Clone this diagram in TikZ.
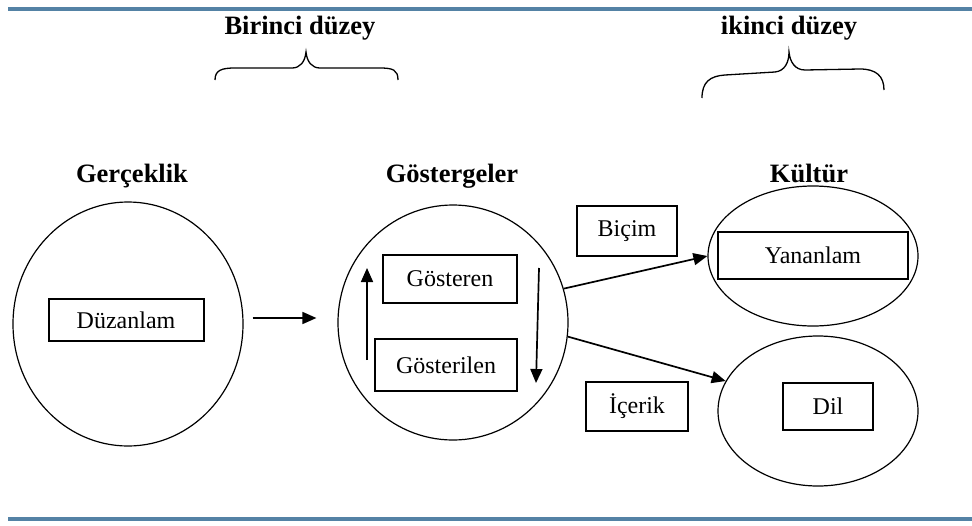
\documentclass[tikz,border=0pt]{standalone}
\usepackage{fontspec}
\setmainfont{Liberation Serif}
\usetikzlibrary{shapes.geometric,arrows.meta,calc}
\definecolor{rulecol}{RGB}{84,130,165}
\tikzset{
  title/.style={anchor=base,font=\fontsize{26.5}{30}\selectfont\bfseries,inner sep=0pt},
  boxn/.style={draw,line width=2pt,inner sep=0pt,font=\fontsize{24}{28}\selectfont},
  ell/.style={draw,ellipse,line width=1.2pt,inner sep=0pt},
  arr/.style={line width=1.7pt,-{Triangle[length=14pt,width=12pt]}},
  brace/.style={line width=1.3pt},
  rulel/.style={draw=rulecol,line width=4pt}
}
\begin{document}
\begin{tikzpicture}[x=1pt,y=-1pt]
\useasboundingbox (0,0) rectangle (972,525);
% rules
\coordinate (rtl) at (8,9); \coordinate (rtr) at (972,9);
\coordinate (rbl) at (8,519); \coordinate (rbr) at (972,519);
\draw[rulel] (rtl) -- (rtr);
\draw[rulel] (rbl) -- (rbr);
% top titles
\node[title] (lev1) at (300,34) {Birinci düzey};
\node[title] (lev2) at (789,34) {ikinci düzey};
% braces
\draw[brace] (215,80) .. controls (215,70) and (222,68) .. (235,68) -- (292,68)
  .. controls (300,68) and (305,62) .. (306,52)
  .. controls (307,62) and (312,68) .. (320,68) -- (380,68)
  .. controls (393,68) and (398,70) .. (398,80);
\draw[brace] (702,98) .. controls (702,82) and (710,76) .. (725,75) -- (775,72)
  .. controls (785,71) and (789,62) .. (789,52)
  .. controls (790,62) and (795,70) .. (805,70) -- (860,69)
  .. controls (876,69) and (884,76) .. (884,90);
% column titles
\node[title] (tg) at (132,182) {Gerçeklik};
\node[title] (ts) at (452,182) {Göstergeler};
\node[title] (tk) at (809,182) {Kültür};
% ellipses
\node[ell,minimum width=230pt,minimum height=244pt] (gerc) at (128,324) {};
\node[ell,minimum width=230pt,minimum height=235pt] (gost) at (453,322.5) {};
\node[ell,minimum width=210pt,minimum height=140pt] (kult) at (813,256) {};
\node[ell,minimum width=200pt,minimum height=150pt] (dile) at (818,411) {};
% boxes
\node[boxn,minimum width=155pt,minimum height=42pt] (duz) at (126,320) {Düzanlam};
\node[boxn,minimum width=134pt,minimum height=48pt] (gsr) at (450,279) {Gösteren};
\node[boxn,minimum width=142pt,minimum height=52pt] (gsl) at (446,365) {Gösterilen};
\node[boxn,minimum width=100pt,minimum height=50pt] (bic) at (627,231) {Biçim};
\node[boxn,minimum width=102pt,minimum height=49pt] (ice) at (637,406.5) {İçerik};
\node[boxn,minimum width=190pt,minimum height=47pt] (yan) at (813,255.5) {Yananlam};
\node[boxn,minimum width=90pt,minimum height=47pt] (dil) at (828,406) {Dil};
% arrows
\draw[arr] ($(gerc.east)+(9,-6)$) -- ($(gost.west)+(-21,-4.5)$);
\coordinate (upS) at (367,360); \coordinate (upE) at (367,268);
\coordinate (dnS) at (539,268); \coordinate (dnE) at (536,383);
\draw[arr] (upS) -- (upE);
\draw[arr] (dnS) -- (dnE);
\draw[arr] (gost.17) -- (kult.west);
\draw[arr] (gost.-7) -- (dile.162);
\end{tikzpicture}
\end{document}
